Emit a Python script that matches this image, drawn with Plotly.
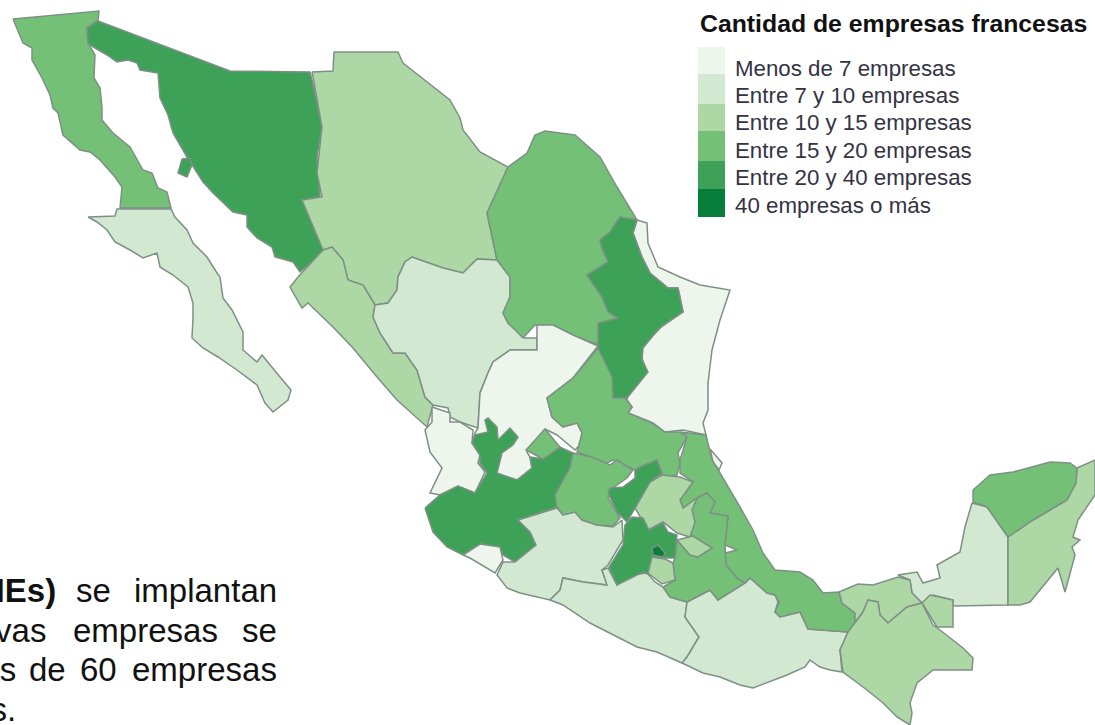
import plotly.graph_objects as go

# Class of each state (0 = fewest companies ... 5 = most)
CLASS_LABELS = ["Menos de 7 empresas", "Entre 7 y 10 empresas", "Entre 10 y 15 empresas",
                "Entre 15 y 20 empresas", "Entre 20 y 40 empresas", "40 empresas o más"]
CLASS_COLORS = ["#EDF5EC", "#D2E8D0", "#ADD7A4", "#74C077", "#3DA257", "#067E3A"]
LEGEND_TITLE = "Cantidad de empresas francesas"

BAJA_CALIFORNIA = [(13,19),(99,11),(98,20),(87,28),(88,43),(95,55),(94,78),(100,88),(102,107),(102,120),(113,133),(130,147),(143,170),(152,173),(158,188),(167,192),(171,208),(120,208),(122,187),(115,177),(100,160),(90,152),(80,150),(63,135),(58,113),(53,108),(50,95),(42,78),(32,60),(32,48),(23,43)]
BAJA_SUR = [(88,217),(115,216),(117,209),(171,209),(175,217),(187,230),(193,243),(207,257),(217,273),(220,277),(223,298),(232,310),(243,332),(243,350),(257,362),(262,355),(280,377),(291,390),(288,400),(273,412),(265,403),(257,385),(237,370),(218,357),(203,348),(192,338),(193,318),(193,303),(188,287),(173,275),(160,267),(157,253),(143,258),(130,250),(115,242),(107,230),(97,222)]
SONORA = [(98,21),(230,71),(310,72),(315,93),(322,127),(317,157),(320,197),(302,200),(325,250),(300,272),(293,262),(275,257),(272,247),(257,238),(247,227),(247,215),(233,212),(213,193),(203,182),(187,157),(173,133),(168,115),(160,98),(158,73),(140,70),(137,63),(128,60),(117,62),(107,55),(93,47),(88,43),(87,28)]
SONORA_ISLA = [(182,159),(190,158),(192,165),(187,177),(178,173)]
CHIHUAHUA = [(312,72),(333,71),(334,52),(398,52),(403,63),(427,82),(450,100),(460,118),(463,130),(480,152),(508,167),(487,213),(497,260),(477,259),(463,273),(443,268),(412,257),(405,262),(398,277),(397,290),(388,303),(375,305),(363,285),(348,280),(343,260),(332,247),(323,250),(302,200),(322,197),(317,173),(322,127),(313,77)]
SINALOA = [(323,250),(332,247),(343,260),(348,280),(363,285),(375,305),(373,317),(380,333),(393,353),(405,353),(417,370),(425,397),(433,405),(427,427),(397,400),(377,377),(353,348),(333,327),(308,303),(302,308),(290,287),(298,277)]
DURANGO = [(375,305),(388,303),(397,290),(398,277),(405,262),(412,257),(443,268),(463,273),(477,259),(497,260),(510,277),(510,297),(503,313),(508,323),(525,338),(537,338),(537,350),(510,350),(493,362),(488,373),(480,393),(478,428),(460,422),(450,417),(448,408),(433,405),(425,397),(417,370),(405,353),(393,353),(380,333),(373,317)]
COAHUILA = [(508,167),(527,153),(535,135),(545,131),(575,135),(600,157),(617,187),(637,220),(620,217),(610,232),(600,240),(602,248),(608,262),(587,275),(602,297),(608,312),(618,318),(600,323),(598,345),(573,335),(553,325),(535,325),(523,338),(508,323),(503,313),(510,297),(510,277),(497,260),(487,213)]
NUEVO_LEON = [(620,217),(637,220),(633,233),(642,257),(650,273),(668,288),(678,288),(683,312),(663,325),(655,333),(643,348),(642,360),(648,372),(627,398),(612,398),(608,377),(598,347),(598,323),(618,318),(608,312),(602,297),(587,275),(608,262),(602,248),(600,240),(610,232)]
TAMAULIPAS = [(637,220),(647,223),(648,243),(658,267),(680,277),(700,285),(730,290),(720,320),(712,350),(708,383),(708,410),(703,423),(706,435),(683,430),(665,432),(653,423),(628,413),(632,407),(627,400),(630,380),(647,372),(642,358),(642,348),(660,328),(683,312),(678,288),(668,288),(650,273),(642,257),(633,233)]
ZACATECAS = [(537,325),(553,325),(573,335),(598,346),(573,378),(547,398),(552,417),(563,427),(577,423),(582,433),(580,445),(575,450),(557,435),(545,429),(527,452),(530,457),(532,468),(517,480),(498,475),(490,472),(478,463),(480,455),(472,443),(475,433),(478,428),(480,393),(488,373),(493,362),(510,350),(537,350),(537,338)]
NAYARIT = [(432,407),(450,413),(450,422),(460,422),(473,430),(472,443),(480,455),(478,463),(485,472),(475,493),(458,486),(440,495),(430,493),(442,468),(430,452),(425,430),(432,422)]
JALISCO = [(425,508),(440,495),(458,486),(475,493),(487,473),(480,463),(480,455),(472,443),(475,435),(488,432),(485,420),(488,418),(497,427),(498,440),(510,428),(518,437),(513,445),(502,453),(497,473),(517,480),(532,468),(530,457),(543,459),(560,447),(573,453),(570,468),(555,495),(557,507),(518,520),(530,532),(536,545),(515,562),(503,555),(500,547),(480,544),(463,555),(447,547),(433,532)]
COLIMA = [(463,555),(480,544),(500,547),(503,560),(495,573),(485,567),(470,558)]
AGUASCALIENTES = [(545,429),(560,447),(543,459),(526,450)]
MICHOACAN = [(518,520),(557,508),(563,515),(575,512),(582,520),(597,525),(613,527),(622,520),(623,540),(608,565),(602,570),(607,585),(583,582),(563,578),(560,590),(550,600),(520,593),(507,588),(497,575),(503,562),(515,562),(536,545),(530,532)]
GUERRERO = [(550,600),(560,590),(563,578),(583,582),(607,585),(602,570),(608,568),(617,585),(630,575),(647,573),(655,582),(663,587),(670,597),(687,602),(685,617),(699,637),(687,657),(682,663),(657,652),(637,647),(590,623),(563,605)]
OAXACA = [(687,602),(710,590),(718,600),(745,583),(750,578),(767,593),(775,595),(778,602),(775,612),(780,617),(800,612),(808,629),(848,632),(840,650),(842,672),(830,670),(820,667),(810,660),(805,667),(787,675),(753,688),(740,685),(720,677),(703,673),(682,663),(687,657),(699,637),(685,617)]
VERACRUZ = [(680,432),(706,435),(712,460),(720,473),(740,507),(753,530),(763,553),(775,570),(800,572),(813,580),(823,593),(839,592),(842,603),(855,613),(855,623),(848,632),(808,629),(800,612),(780,617),(775,612),(779,602),(775,595),(767,593),(750,578),(745,583),(737,578),(726,565),(725,553),(737,550),(725,545),(728,516),(710,513),(715,502),(707,493),(697,498),(683,508),(680,500),(693,482),(680,473),(680,460),(687,437)]
LAGUNA = [(710,449),(722,463),(719,470),(713,462)]
SAN_LUIS = [(598,348),(612,377),(613,398),(625,398),(632,407),(628,413),(650,422),(665,432),(680,432),(687,437),(678,453),(680,463),(677,475),(662,477),(657,460),(640,468),(635,470),(613,460),(603,465),(593,458),(577,452),(582,433),(577,423),(563,427),(552,417),(547,398),(573,378)]
GUANAJUATO = [(573,453),(592,457),(610,465),(617,460),(633,470),(627,478),(610,490),(608,498),(620,518),(613,526),(597,525),(582,520),(575,512),(563,515),(557,507),(555,495),(570,468)]
QUERETARO = [(657,460),(662,473),(650,482),(635,508),(627,522),(617,512),(608,493),(610,488),(623,487),(635,478),(635,470),(640,467)]
HIDALGO = [(662,475),(680,477),(693,482),(680,500),(683,508),(697,498),(692,510),(695,522),(690,537),(677,533),(663,522),(648,530),(635,508),(650,482)]
MEXICO = [(632,517),(643,518),(649,530),(663,523),(668,532),(677,535),(675,558),(665,558),(652,557),(650,575),(643,572),(617,585),(609,567),(623,545),(625,525)]
CDMX = [(652,548),(658,545),(665,553),(663,557),(653,555)]
MORELOS = [(652,557),(665,559),(673,563),(675,580),(662,584),(648,573)]
TLAXCALA = [(677,540),(693,536),(712,548),(698,557),(690,555)]
PUEBLA = [(697,498),(707,493),(715,502),(710,513),(728,516),(725,545),(726,565),(737,578),(745,583),(718,600),(710,590),(687,602),(670,597),(663,587),(675,580),(673,563),(675,558),(677,540),(690,555),(698,557),(712,548),(693,536),(690,537),(695,522),(692,510)]
TABASCO = [(839,592),(858,584),(873,585),(898,577),(910,580),(912,593),(922,603),(907,607),(888,623),(880,615),(878,602),(868,600),(863,612),(855,623),(855,613),(842,603)]
TABASCO_ESTE = [(922,603),(930,595),(953,600),(953,627),(937,627)]
CHIAPAS = [(848,632),(855,623),(863,612),(868,600),(878,602),(880,615),(888,623),(907,607),(922,603),(933,625),(940,630),(963,648),(973,658),(972,670),(933,670),(917,683),(910,703),(912,713),(910,725),(897,717),(883,703),(867,690),(843,672),(840,650)]
CAMPECHE = [(972,503),(987,507),(1008,537),(1008,605),(953,606),(953,600),(933,595),(922,603),(912,593),(910,580),(898,575),(917,572),(923,583),(940,578),(937,565),(960,552),(965,527)]
YUCATAN = [(973,490),(990,475),(1013,472),(1050,462),(1070,463),(1077,468),(1076,483),(1067,500),(1033,520),(1008,537),(987,507),(973,502)]
QUINTANA_ROO = [(1077,468),(1095,460),(1095,495),(1078,520),(1073,537),(1080,540),(1072,547),(1075,555),(1065,592),(1058,568),(1030,602),(1020,605),(1008,605),(1008,537),(1033,520),(1067,500),(1076,483)]

STATES = [
    ("Baja California", BAJA_CALIFORNIA, 3), ("Baja California Sur", BAJA_SUR, 1),
    ("Sonora", SONORA, 4), ("Sonora (isla)", SONORA_ISLA, 4), ("Chihuahua", CHIHUAHUA, 2),
    ("Sinaloa", SINALOA, 2), ("Durango", DURANGO, 1), ("Coahuila", COAHUILA, 3),
    ("Tamaulipas", TAMAULIPAS, 0), ("Nuevo León", NUEVO_LEON, 4), ("Zacatecas", ZACATECAS, 0),
    ("Nayarit", NAYARIT, 0), ("Jalisco", JALISCO, 4), ("Colima", COLIMA, 0),
    ("Aguascalientes", AGUASCALIENTES, 3), ("Michoacán", MICHOACAN, 1), ("Guerrero", GUERRERO, 1),
    ("Oaxaca", OAXACA, 1), ("Laguna", LAGUNA, 0), ("San Luis Potosí", SAN_LUIS, 3),
    ("Veracruz", VERACRUZ, 3), ("Guanajuato", GUANAJUATO, 3), ("Puebla", PUEBLA, 3),
    ("Hidalgo", HIDALGO, 2), ("Querétaro", QUERETARO, 4), ("México", MEXICO, 4),
    ("Ciudad de México", CDMX, 5), ("Morelos", MORELOS, 2), ("Tlaxcala", TLAXCALA, 2),
    ("Campeche", CAMPECHE, 1), ("Tabasco", TABASCO, 2), ("Tabasco (este)", TABASCO_ESTE, 2),
    ("Chiapas", CHIAPAS, 2), ("Quintana Roo", QUINTANA_ROO, 2), ("Yucatán", YUCATAN, 3),
]

fig = go.Figure()
for name, outline, cls in STATES:
    xs = [p[0] for p in outline] + [outline[0][0]]
    ys = [p[1] for p in outline] + [outline[0][1]]
    fig.add_trace(go.Scatter(x=xs, y=ys, mode="lines", fill="toself", name=name,
                             fillcolor=CLASS_COLORS[cls], showlegend=False, hoverinfo="name",
                             line=dict(color="#7E9086", width=1.5)))

shapes = []
swatch_edges = [47, 74, 104, 131, 161, 189, 217]
for i, c in enumerate(CLASS_COLORS):
    shapes.append(dict(type="rect", xref="x", yref="y", x0=698, x1=725,
                       y0=swatch_edges[i], y1=swatch_edges[i + 1],
                       fillcolor=c, line=dict(width=0), layer="below"))

ann = []
ann.append(dict(x=698, y=23, text="<b>" + LEGEND_TITLE + "</b>", xanchor="left", yanchor="middle",
                showarrow=False, font=dict(family="Liberation Sans", size=24.8, color="#111111")))
for i, lab in enumerate(CLASS_LABELS):
    ann.append(dict(x=733, y=68 + i * 27.4, text=lab, xanchor="left", yanchor="middle",
                    showarrow=False, font=dict(family="Liberation Sans", size=22.3, color="#333344")))

body = [("<b>(PyMEs)</b>", 58, 590), ("se", 113, 590), ("implantan", 279, 590),
        ("nuevas", 48, 630), ("empresas", 220, 630), ("se", 279, 630),
        ("más", 18, 669), ("de", 68, 669), ("60", 119, 669), ("empresas", 279, 669),
        ("francesas.", 18, 709)]
for text, x, y in body:
    ann.append(dict(x=x, y=y, text=text, xanchor="right", yanchor="middle", showarrow=False,
                    font=dict(family="Liberation Sans", size=33, color="#111111")))

fig.update_layout(
    width=1095, height=725, margin=dict(l=0, r=0, t=0, b=0),
    paper_bgcolor="white", plot_bgcolor="white", showlegend=False,
    xaxis=dict(range=[0, 1095], visible=False, fixedrange=True),
    yaxis=dict(range=[725, 0], visible=False, fixedrange=True),
    shapes=shapes, annotations=ann,
)
fig.write_html("out.html", config=dict(displayModeBar=False),
               post_script="document.body.style.margin='0';document.body.style.overflow='hidden';")
